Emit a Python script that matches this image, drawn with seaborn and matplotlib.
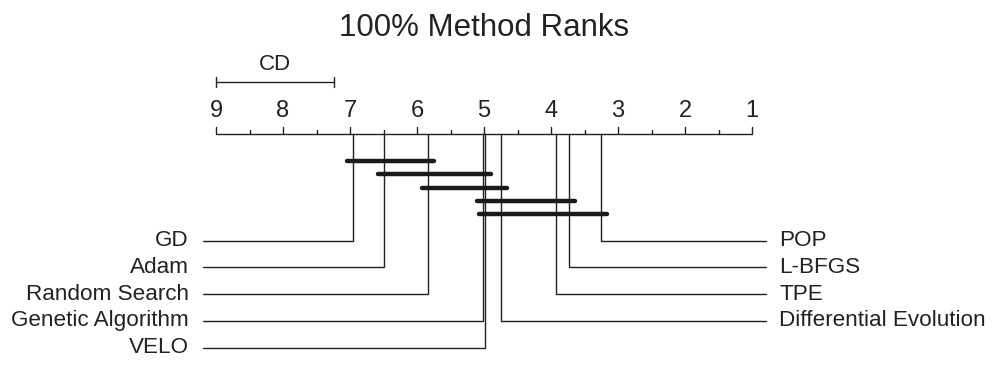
import matplotlib
matplotlib.use("Agg")
import matplotlib.pyplot as plt
import seaborn as sns

# ---- data ----
methods = ["GD", "Adam", "Random Search", "Genetic Algorithm", "VELO",
           "Differential Evolution", "TPE", "L-BFGS", "POP"]
avg_ranks = [6.96, 6.49, 5.83, 5.02, 4.99, 4.74, 3.93, 3.73, 3.26]
left_methods = ["GD", "Adam", "Random Search", "Genetic Algorithm", "VELO"]
right_methods = ["POP", "L-BFGS", "TPE", "Differential Evolution"]
cliques = [("GD", "Random Search"), ("Adam", "VELO"),
           ("Random Search", "Differential Evolution"),
           ("Genetic Algorithm", "L-BFGS"), ("VELO", "POP")]
cd_value = 1.76
rank_ticks = [9, 8, 7, 6, 5, 4, 3, 2, 1]
title = "100% Method Ranks"

rank_of = dict(zip(methods, avg_ranks))

sns.set_theme(style="white")
plt.rcParams["font.family"] = ["Liberation Sans", "DejaVu Sans"]

W, H = 996, 389
fig = plt.figure(figsize=(W / 100, H / 100), dpi=100)
ax = fig.add_axes([0, 0, 1, 1])
ax.set_axis_off()

# px-based layout: rank 9 at x=216, rank 1 at x=752
unit = (752 - 216) / 8.0
def px2r(px):
    return 9 + (216 - px) / unit

ax.set_xlim(px2r(0), px2r(W))
ax.set_ylim(H, 0)

col = "#222222"
lw = 1.0

# axis line
axis_y = 134
ax.plot([9, 1], [axis_y, axis_y], color=col, lw=lw, solid_capstyle="butt")
for t in rank_ticks:
    ax.plot([t, t], [axis_y, axis_y - 7], color=col, lw=lw)
    ax.text(t, axis_y - 17.5, str(t), ha="center", va="baseline",
            fontsize=17, color=col)
for t in rank_ticks[:-1]:
    h = t - 0.5
    ax.plot([h, h], [axis_y, axis_y - 4], color=col, lw=lw)

# CD bar
cd_y = 81.5
ax.plot([9, 9 - cd_value], [cd_y, cd_y], color=col, lw=lw)
for x in (9, 9 - cd_value):
    ax.plot([x, x], [cd_y - 5, cd_y + 5], color=col, lw=lw)
ax.text(9 - cd_value / 2, cd_y - 12, "CD", ha="center", va="baseline",
        fontsize=16, color=col)

# title
ax.text(5, 35.5, title, ha="center", va="baseline", fontsize=22.5, color=col)

# connector lines + labels
row_y0 = 240.5
row_dy = 26.8
line_left = px2r(202.5)
line_right = px2r(766)
text_left = px2r(189)
text_right = px2r(779)
for i, m in enumerate(left_methods):
    y = row_y0 + i * row_dy
    r = rank_of[m]
    ax.plot([r, r, line_left], [axis_y, y, y], color=col, lw=lw)
    ax.text(text_left, y, m, ha="right", va="center", fontsize=16.2, color=col)
for i, m in enumerate(right_methods):
    y = row_y0 + i * row_dy
    r = rank_of[m]
    ax.plot([r, r, line_right], [axis_y, y, y], color=col, lw=lw)
    ax.text(text_right, y, m, ha="left", va="center", fontsize=16.2, color=col)

# clique bars
bar_y0 = 161
bar_dy = 13.35
ext = 0.09
for i, (a, b) in enumerate(cliques):
    y = bar_y0 + i * bar_dy
    ax.plot([rank_of[a] + ext, rank_of[b] - ext], [y, y], color="#1a1a1a",
            lw=3.2, solid_capstyle="round")

fig.savefig("out.png", dpi=100, facecolor="white")
